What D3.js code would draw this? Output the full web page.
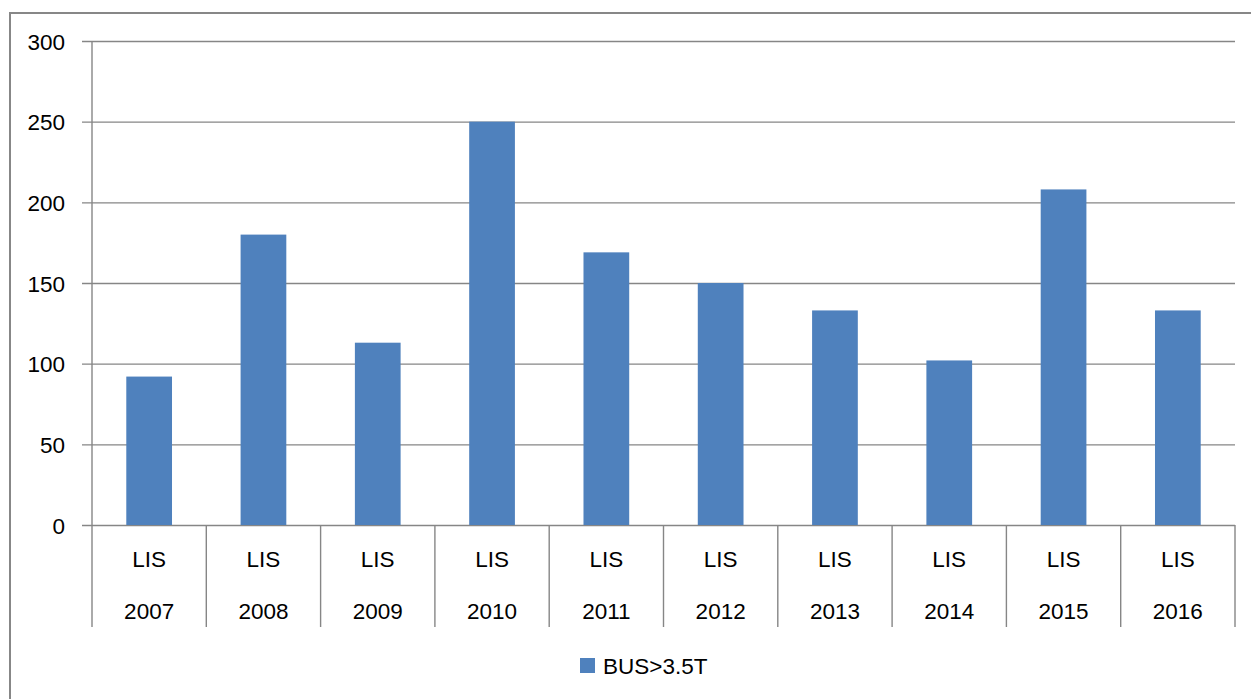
<!DOCTYPE html>
<html>
<head>
<meta charset="utf-8">
<script src="https://cdn.jsdelivr.net/npm/d3@7"></script>
<style>
  body { margin: 0; background: #fff; }
  text { font-family: "Liberation Sans", Arial, sans-serif; fill: #000; }
</style>
</head>
<body>
<script>
// Data
var categories = ["2007", "2008", "2009", "2010", "2011", "2012", "2013", "2014", "2015", "2016"];
var groupLabel = "LIS";
var seriesName = "BUS>3.5T";
var busValues = [92, 180, 113, 250, 169, 150, 133, 102, 208, 133];
var yTicks = [0, 50, 100, 150, 200, 250, 300];

var width = 1251, height = 699;
var margin = {top: 41, right: 16, bottom: 174, left: 92};
var plot_w = width - margin.left - margin.right;
var plot_h = height - margin.top - margin.bottom;
var fontSize = "22.5px";

var svg = d3.select("body").append("svg")
    .attr("width", width)
    .attr("height", height);

// outer chart border (left and top visible)
svg.append("rect")
    .attr("x", 10).attr("y", 13)
    .attr("width", width + 20).attr("height", height + 20)
    .attr("fill", "none")
    .attr("stroke", "#878787")
    .attr("stroke-width", 2);

var g = svg.append("g")
    .attr("transform", "translate(" + margin.left + "," + margin.top + ")");

var yScale = d3.scaleLinear().domain([0, 300]).range([plot_h, 0]);

// category slots (for dividers) and bar positions
var xCat = d3.scaleBand().domain(categories).range([0, plot_w]).padding(0);
var xBar = d3.scaleBand().domain(categories).range([0, plot_w])
    .paddingInner(0.6).paddingOuter(0.3);

// gridlines + ticks
var yAxis = d3.axisLeft(yScale)
    .tickValues(yTicks)
    .tickSize(-plot_w)
    .tickPadding(27)
    .tickFormat(d3.format("d"));

var ya = g.append("g").call(yAxis);
ya.select(".domain").remove();
ya.selectAll(".tick line")
    .attr("x1", -10)
    .attr("stroke", "#868686")
    .attr("stroke-width", 1.4);
ya.selectAll(".tick text")
    .style("font-size", fontSize)
    .attr("dy", "0.36em");

// bars
g.selectAll("rect.bar")
    .data(busValues)
    .enter().append("rect")
    .attr("class", "bar")
    .attr("x", function(d, i) { return xBar(categories[i]); })
    .attr("width", xBar.bandwidth())
    .attr("y", function(d) { return yScale(d); })
    .attr("height", function(d) { return plot_h - yScale(d); })
    .attr("fill", "#4F81BD");

// y axis line (extends through the category label area)
var labelDepth = 102;
g.append("line")
    .attr("x1", 0).attr("x2", 0)
    .attr("y1", 0).attr("y2", plot_h + labelDepth)
    .attr("stroke", "#868686")
    .attr("stroke-width", 1.4);

// category dividers
var bounds = categories.map(function(c) { return xCat(c) + xCat.bandwidth(); });
g.selectAll("line.div")
    .data(bounds)
    .enter().append("line")
    .attr("class", "div")
    .attr("x1", function(d) { return d; })
    .attr("x2", function(d) { return d; })
    .attr("y1", plot_h)
    .attr("y2", plot_h + labelDepth)
    .attr("stroke", "#868686")
    .attr("stroke-width", 1.4);

// two-level category labels
var cats = g.selectAll("g.cat")
    .data(categories)
    .enter().append("g")
    .attr("class", "cat")
    .attr("transform", function(c) {
        return "translate(" + (xCat(c) + xCat.bandwidth() / 2) + "," + plot_h + ")";
    });
cats.append("text")
    .attr("y", 34)
    .attr("dy", "0.36em")
    .attr("text-anchor", "middle")
    .style("font-size", fontSize)
    .text(groupLabel);
cats.append("text")
    .attr("y", 86)
    .attr("dy", "0.36em")
    .attr("text-anchor", "middle")
    .style("font-size", fontSize)
    .text(function(c) { return c; });

// legend
var legend = svg.append("g").attr("transform", "translate(580,658)");
legend.append("rect")
    .attr("width", 15).attr("height", 15)
    .attr("fill", "#4F81BD");
legend.append("text")
    .attr("x", 23).attr("y", 8)
    .attr("dy", "0.36em")
    .style("font-size", fontSize)
    .text(seriesName);
</script>
</body>
</html>
